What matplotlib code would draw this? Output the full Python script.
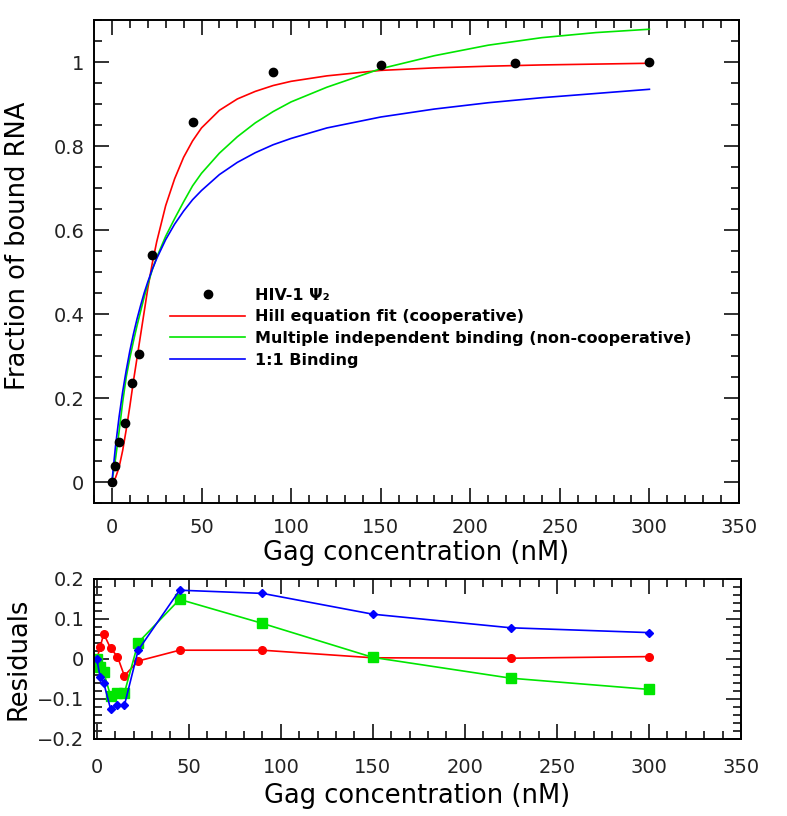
import matplotlib
matplotlib.use("Agg")
import matplotlib.pyplot as plt
from matplotlib.ticker import MultipleLocator, FuncFormatter

plt.rcParams['font.family'] = ['DejaVu Sans']

# measured binding data
conc = [0, 1.875, 3.75, 7.5, 11.25, 15, 22.5, 45, 90, 150, 225, 300]
bound = [0.0, 0.039, 0.096, 0.14, 0.236, 0.304, 0.541, 0.856, 0.977, 0.992, 0.998, 1.0]

# fitted curves
x_fit = [0, 2, 4, 6, 8, 10, 12, 14, 16, 18, 20, 22.5, 25, 30, 35, 40, 45, 50,
         60, 70, 80, 90, 100, 120, 150, 180, 210, 240, 270, 300]
hill_fit = [0, 0.01, 0.035, 0.075, 0.125, 0.18, 0.24, 0.295, 0.35, 0.405, 0.46,
            0.52, 0.572, 0.658, 0.722, 0.773, 0.812, 0.843, 0.885, 0.912, 0.93,
            0.944, 0.954, 0.967, 0.98, 0.986, 0.99, 0.993, 0.995, 0.997]
multi_fit = [0, 0.055, 0.12, 0.19, 0.25, 0.295, 0.335, 0.372, 0.406, 0.44, 0.47,
             0.505, 0.535, 0.585, 0.627, 0.667, 0.705, 0.735, 0.783, 0.822, 0.855,
             0.882, 0.905, 0.94, 0.984, 1.015, 1.04, 1.058, 1.07, 1.078]
one_fit = [0, 0.085, 0.155, 0.215, 0.266, 0.312, 0.352, 0.388, 0.42, 0.45, 0.476,
           0.506, 0.532, 0.577, 0.614, 0.645, 0.672, 0.694, 0.732, 0.761, 0.784,
           0.803, 0.818, 0.843, 0.869, 0.888, 0.903, 0.915, 0.925, 0.935]

# residuals
res_hill = [0, 0.03, 0.063, 0.027, 0.006, -0.042, -0.005, 0.022, 0.022, 0.003, 0.002, 0.006]
res_multi = [0, -0.02, -0.033, -0.092, -0.085, -0.085, 0.041, 0.149, 0.089, 0.004, -0.048, -0.076]
res_one = [0, -0.046, -0.059, -0.125, -0.115, -0.116, 0.022, 0.172, 0.164, 0.112, 0.078, 0.066]

RED = '#ff0000'
GREEN = '#00e600'
BLUE = '#0000ff'

fig = plt.figure(figsize=(7.87, 8.16), dpi=100)
ax1 = fig.add_axes([94 / 787, 1 - 503 / 816, 645 / 787, 483 / 816])
ax2 = fig.add_axes([94 / 787, 1 - 739 / 816, 647 / 787, 160 / 816])


def fmt(v, pos):
    s = '%g' % round(v, 3)
    return s.replace('-', '\u2212')


def style(ax, xpad):
    for sp in ax.spines.values():
        sp.set_linewidth(1.4)
    ax.tick_params(which='both', direction='in', top=True, right=True,
                   width=1.3, labelsize=14, colors='#222222', pad=7)
    ax.tick_params(axis='x', which='major', pad=xpad)
    ax.tick_params(which='major', length=11)
    ax.tick_params(which='minor', length=6)
    ax.xaxis.set_major_locator(MultipleLocator(50))
    ax.xaxis.set_minor_locator(MultipleLocator(10))
    ax.xaxis.set_major_formatter(FuncFormatter(fmt))
    ax.yaxis.set_major_formatter(FuncFormatter(fmt))


# top panel
ax1.plot(x_fit, hill_fit, color=RED, lw=1.2, label='Hill equation fit (cooperative)')
ax1.plot(x_fit, multi_fit, color=GREEN, lw=1.2,
         label='Multiple independent binding (non-cooperative)')
ax1.plot(x_fit, one_fit, color=BLUE, lw=1.2, label='1:1 Binding')
pts, = ax1.plot(conc, bound, 'o', color='black', ms=6, zorder=5, label='HIV-1 \u03a8\u2082')
ax1.set_xlim(-10, 350)
ax1.set_ylim(-0.05, 1.1)
style(ax1, 11)
ax1.yaxis.set_major_locator(MultipleLocator(0.2))
ax1.yaxis.set_minor_locator(MultipleLocator(0.05))
ax1.set_xlabel('Gag concentration (nM)', fontsize=18.5, labelpad=2)
ax1.set_ylabel('Fraction of bound RNA', fontsize=18.5)
ax1.yaxis.set_label_coords(-0.098, 0.532)

h, l = ax1.get_legend_handles_labels()
order = [3, 0, 1, 2]
ax1.legend([h[i] for i in order], [l[i] for i in order], loc='upper left',
           bbox_to_anchor=(0.118, 0.446), frameon=False, handlelength=4.7,
           handletextpad=0.6, labelspacing=0.42, borderpad=0, borderaxespad=0,
           prop={'weight': 'bold', 'size': 11.5})

# residuals panel
ax2.plot(conc, res_hill, '-o', color=RED, lw=1.2, ms=5.5)
ax2.plot(conc, res_multi, '-s', color=GREEN, lw=1.2, ms=6.5)
ax2.plot(conc, res_one, '-D', color=BLUE, lw=1.2, ms=3.8)
ax2.set_xlim(-1.5, 350)
ax2.set_ylim(-0.2, 0.2)
style(ax2, 14)
ax2.yaxis.set_major_locator(MultipleLocator(0.1))
ax2.yaxis.set_minor_locator(MultipleLocator(0.02))
ax2.set_xlabel('Gag concentration (nM)', fontsize=18.5, labelpad=4)
ax2.set_ylabel('Residuals', fontsize=18.5, labelpad=4)

fig.savefig('out.png', dpi=100)
